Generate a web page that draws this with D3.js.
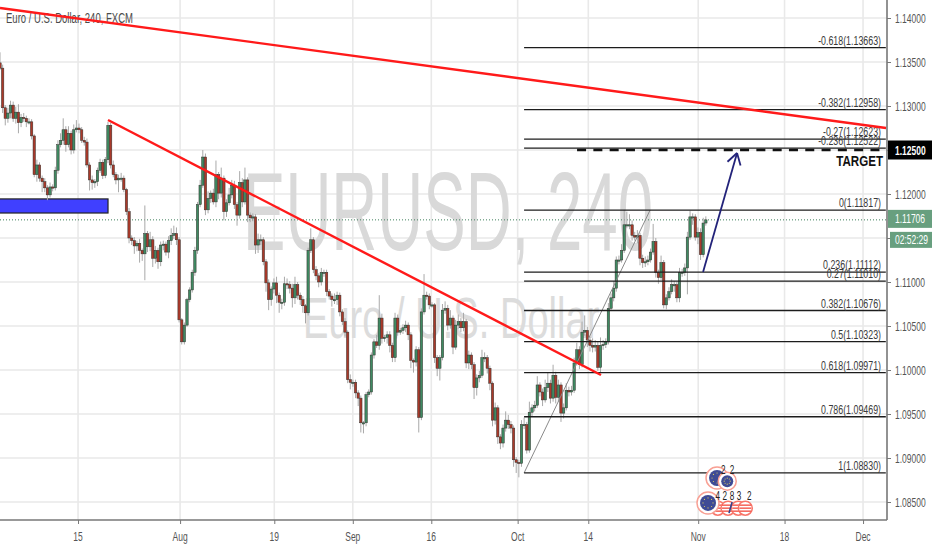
<!DOCTYPE html>
<html>
<head>
<meta charset="utf-8">
<script src="https://cdnjs.cloudflare.com/ajax/libs/d3/7.8.5/d3.min.js"></script>
<style>
  html, body { margin: 0; padding: 0; background: #fff; overflow: hidden; }
  text { font-family: "Liberation Sans", Arial, sans-serif; }
</style>
</head>
<body>
<svg id="chart" width="932" height="550"></svg>
<script>
// 240 candles, thinned to about 3 bars per trading day
var firstOpen = 1.1349;
var firstDay = -9.94, daysPerBar = 0.3355;
var closes = [
  1.1343,1.1298,1.1286,1.1292,1.1301,1.1286,1.1293,1.1281,1.1287,1.1286,
  1.1282,1.1282,1.1266,1.1222,1.1233,1.1218,1.1214,1.1207,1.1199,1.1208,
  1.1207,1.1227,1.1256,1.1261,1.1273,1.1256,1.1269,1.1250,1.1273,1.1275,
  1.1273,1.1261,1.1259,1.1233,1.1216,1.1213,1.1214,1.1227,1.1236,1.1221,
  1.1239,1.1278,1.1233,1.1222,1.1216,1.1218,1.1218,1.1205,1.1180,1.1150,
  1.1147,1.1141,1.1144,1.1136,1.1132,1.1155,1.1140,1.1148,1.1127,1.1136,
  1.1123,1.1142,1.1143,1.1134,1.1147,1.1153,1.1155,1.1148,1.1057,1.1032,
  1.1051,1.1080,1.1091,1.1111,1.1136,1.1188,1.1210,1.1242,1.1182,1.1195,
  1.1201,1.1191,1.1222,1.1201,1.1218,1.1180,1.1190,1.1199,1.1210,1.1188,
  1.1176,1.1213,1.1191,1.1216,1.1176,1.1173,1.1174,1.1142,1.1148,1.1148,
  1.1123,1.1099,1.1080,1.1092,1.1099,1.1085,1.1077,1.1077,1.1098,1.1097,
  1.1093,1.1082,1.1097,1.1085,1.1080,1.1073,1.1065,1.1136,1.1148,1.1114,
  1.1107,1.1100,1.1111,1.1111,1.1089,1.1084,1.1080,1.1080,1.1085,1.1066,
  1.1055,1.1043,1.0989,1.0986,1.0986,1.0974,1.0968,1.0940,1.0940,1.0972,
  1.0975,1.1017,1.1032,1.1028,1.1059,1.1036,1.1037,1.1040,1.1028,1.1014,
  1.1059,1.1043,1.1045,1.1048,1.1051,1.1040,1.1011,1.1009,1.1023,1.0946,
  1.1066,1.1085,1.1084,1.1074,1.1074,1.1014,1.1002,1.1014,1.1068,1.1070,
  1.1051,1.1059,1.1026,1.1051,1.1055,1.1048,1.1055,1.1008,1.1017,1.1006,
  1.0980,1.0991,1.0994,1.1014,1.1014,1.1002,1.0985,1.0943,1.0957,1.0924,
  1.0917,1.0934,1.0943,1.0938,1.0934,1.0898,1.0895,1.0894,1.0938,1.0938,
  1.0909,1.0952,1.0957,1.0960,1.0983,1.0975,1.0966,1.0980,1.0985,1.0968,
  1.0994,1.0969,1.0983,1.0951,1.0957,1.0977,1.0975,1.0977,1.1008,1.1023,
  1.1006,1.1043,1.1045,1.1034,1.1028,1.1026,1.1028,1.1003,1.1028,1.1029,
  1.1032,1.1070,1.1082,1.1093,1.1125,1.1125,1.1136,1.1165,1.1165,1.1165,
  1.1153,1.1151,1.1153,1.1127,1.1122,1.1123,1.1125,1.1134,1.1146,1.1111,
  1.1105,1.1122,1.1074,1.1082,1.1089,1.1097,1.1097,1.1082,1.1111,1.1111,
  1.1116,1.1151,1.1174,1.1174,1.1151,1.1156,1.1131,1.1167,1.11706
];
// wick lengths in pips above and below each body
var upperWicks = [
  12,4,3,6,5,4,6,9,4,5, 3,4,3,2,6,3,3,4,3,5, 3,4,5,8,13,4,8,3,6,9,
  5,3,4,4,3,5,3,3,4,3, 3,4,3,5,3,4,6,3,2,4, 3,4,3,5,2,32,3,9,4,5,
  3,4,4,3,5,8,9,7,3,2, 3,2,3,3,4,3,6,8,4,8, 3,5,16,3,12,3,4,8,6,5,
  3,13,5,14,3,3,4,3,7,6, 3,3,4,3,5,7,3,4,8,6, 4,5,9,3,3,4,2,3,13,3,
  4,3,5,3,3,3,3,7,4,3, 3,4,2,6,3,3,3,3,2,3, 3,3,3,8,26,5,3,4,4,3,
  6,4,3,4,5,3,3,2,4,3, 4,24,4,3,3,2,3,3,7,8, 4,9,3,6,8,4,10,3,5,3,
  3,4,5,9,6,3,3,2,6,3, 3,4,10,6,4,3,3,3,5,8, 3,12,4,5,10,3,4,9,12,4,
  12,4,6,3,5,8,4,5,6,8, 4,12,17,4,4,8,6,4,9,5, 4,6,5,8,4,5,7,17,15,12,
  5,4,6,3,4,6,5,4,20,4, 3,8,3,4,5,6,4,3,5,4, 5,6,7,4,3,6,5,6,4
];
var lowerWicks = [
  2,6,8,5,6,4,6,12,5,4, 6,3,4,3,8,4,12,5,6,3, 4,3,4,3,5,8,3,5,4,3,
  4,3,4,3,12,8,6,5,3,4, 3,4,4,3,5,14,4,3,4,6, 5,9,6,14,8,30,6,5,10,6,
  8,5,6,4,7,5,4,6,3,3, 3,2,3,3,4,4,3,3,6,4, 5,3,6,7,5,10,6,3,4,5,
  12,4,6,3,8,5,4,10,9,6, 4,10,12,7,5,9,12,8,4,5, 6,11,7,5,6,8,12,3,3,4,
  5,6,4,5,5,4,8,5,6,5, 4,5,4,8,5,6,9,11,12,4, 3,3,4,3,5,6,4,7,8,5,
  5,4,3,4,5,6,9,12,5,17, 3,3,4,5,3,6,9,14,3,4, 6,4,8,3,4,5,4,6,7,5,
  13,9,5,3,5,6,8,7,5,8, 7,5,4,5,6,8,12,16,4,5, 4,3,5,4,3,5,7,3,5,6,
  4,7,5,10,6,3,5,4,3,3, 5,3,4,8,7,6,5,4,6,5, 4,3,3,4,4,5,3,3,4,5,
  6,4,7,8,6,5,4,3,3,6, 7,3,4,5,3,3,8,5,5,5, 4,30,3,9,4,8,6,3,3
];

var priceTicks = [1.14, 1.135, 1.13, 1.125, 1.12, 1.115, 1.11, 1.105, 1.10, 1.095, 1.09, 1.085];
var hiddenPriceLabels = [1.125, 1.115];
var timeLabels = ['15', 'Aug', '19', 'Sep', '16', 'Oct', '14', 'Nov', '18', 'Dec'];
var timeDays = [0, 13, 25, 35, 45, 56, 65, 79, 90, 100];

var fibRatios = ['-0.618', '-0.382', '-0.27', '-0.236', '0', '0.236', '0.27', '0.382', '0.5', '0.618', '0.786', '1'];
var fibPrices = [1.13663, 1.12958, 1.12623, 1.12522, 1.11817, 1.11112, 1.11010, 1.10676, 1.10323, 1.09971, 1.09469, 1.08830];
var fibDays = [56.82, 102.9];

var resistanceLine = [[-9.94, 1.14114], [102.93, 1.12750]];
var fallingLine = [[3.82, 1.12841], [66.62, 1.09943]];
var fibTrendLine = [[56.82, 1.08830], [72.87, 1.11817]];
var targetLine = [[63.57, 1.125], [102.8, 1.125]];
var arrowLine = [[79.62, 1.11114], [83.95, 1.12466]];
var supplyZone = [[-9.94, 1.11944], [3.82, 1.11784]];

var lastPrice = 1.11706;
var countdown = '02:52:29';

// calendar events along the bottom of the chart
var euroEventDays = [81.4, 82.7, 80.25];
var euroEventPrices = [1.08773, 1.08737, 1.08489];
var euroEventSizes = [8, 6, 8];
var usEventDays = [81.5, 82.8, 84.1, 85.0];
var usEventPrice = 1.0843;
var eventCountDays = [82.2, 83.3, 81.5, 82.4, 83.3, 84.2, 85.5];
var eventCountPrices = [1.08864, 1.08864, 1.08568, 1.08568, 1.08568, 1.08568, 1.08568];
var eventCounts = ['2', '2', '4', '2', '8', '3', '2'];

var width = 932, height = 550;
var plotRight = 887, plotBottom = 520;
var squeeze = 0.68;   // the source picture is squashed horizontally

var x = d3.scaleLinear().domain([firstDay, 103.0]).range([0, 886.6]);
var y = d3.scaleLinear().domain([1.14, 1.085]).range([18, 502]);
var svg = d3.select('#chart');

function label(g, txt, px, py, size, anchor, color, weight, sx) {
  return g.append('text')
    .text(txt)
    .attr('transform', 'translate(' + px + ',' + py + ') scale(' + (sx || squeeze) + ',1)')
    .attr('text-anchor', anchor)
    .attr('font-size', size)
    .attr('font-weight', weight || 'normal')
    .attr('fill', color);
}

function segment(g, pts, color, w) {
  return g.append('line')
    .attr('x1', x(pts[0][0])).attr('y1', y(pts[0][1]))
    .attr('x2', x(pts[1][0])).attr('y2', y(pts[1][1]))
    .attr('stroke', color)
    .attr('stroke-width', w);
}

svg.append('rect').attr('width', width).attr('height', height).attr('fill', '#fff');

// Grid
var grid = svg.append('g');
grid.selectAll('line.h').data(priceTicks).enter().append('line')
  .attr('class', 'h')
  .attr('x1', 0).attr('x2', plotRight)
  .attr('y1', function (d) { return y(d); }).attr('y2', function (d) { return y(d); })
  .attr('stroke', '#e9e9e9').attr('stroke-width', 1.6);
grid.selectAll('line.v').data(timeDays).enter().append('line')
  .attr('class', 'v')
  .attr('x1', function (d) { return x(d); }).attr('x2', function (d) { return x(d); })
  .attr('y1', 0).attr('y2', plotBottom)
  .attr('stroke', '#e9e9e9').attr('stroke-width', 1.6);

// Watermark
var mark = svg.append('g');
label(mark, 'EURUSD, 240', 243, 250, 112, 'start', '#d9d9d9', 'normal', 0.568);
label(mark, 'Euro / U.S. Dollar', 303, 338, 58, 'start', '#dcdcdc', 'normal', 0.657);

// Title
label(svg, 'Euro / U.S. Dollar, 240, FXCM', 6, 23, 14, 'start', '#4a4a4a');

// Supply zone
svg.append('rect')
  .attr('x', x(supplyZone[0][0]) - 2)
  .attr('y', y(supplyZone[0][1]))
  .attr('width', x(supplyZone[1][0]) - x(supplyZone[0][0]) + 2)
  .attr('height', y(supplyZone[1][1]) - y(supplyZone[0][1]))
  .attr('fill', '#4040ff')
  .attr('stroke', '#222')
  .attr('stroke-width', 1.2);

// Last price dotted line
svg.append('line')
  .attr('x1', 0).attr('x2', plotRight)
  .attr('y1', y(lastPrice)).attr('y2', y(lastPrice))
  .attr('stroke', '#3f7f5c').attr('stroke-width', 1)
  .attr('stroke-dasharray', '1,2');

// Candles
var candles = closes.map(function (c, i) {
  var o = i === 0 ? firstOpen : closes[i - 1];
  return {
    day: firstDay + i * daysPerBar,
    open: o,
    close: c,
    high: Math.max(o, c) + upperWicks[i] / 10000,
    low: Math.min(o, c) - lowerWicks[i] / 10000
  };
});
var bars = svg.append('g');
bars.selectAll('line').data(candles).enter().append('line')
  .attr('x1', function (d) { return x(d.day); }).attr('x2', function (d) { return x(d.day); })
  .attr('y1', function (d) { return y(d.high); }).attr('y2', function (d) { return y(d.low); })
  .attr('stroke', '#a9a9a9').attr('stroke-width', 1);
bars.selectAll('rect').data(candles).enter().append('rect')
  .attr('x', function (d) { return x(d.day) - 1.2; })
  .attr('width', 2.4)
  .attr('y', function (d) { return y(Math.max(d.open, d.close)); })
  .attr('height', function (d) { return Math.max(1.2, Math.abs(y(d.open) - y(d.close))); })
  .attr('fill', function (d) { return d.close >= d.open ? '#3f8a62' : '#a9392a'; })
  .attr('stroke', '#33302c').attr('stroke-width', 0.5);

// Fib retracement
var fib = svg.append('g');
segment(fib, fibTrendLine, '#8a8a8a', 1);
fib.selectAll('line.level').data(fibPrices).enter().append('line')
  .attr('class', 'level')
  .attr('x1', x(fibDays[0])).attr('x2', x(fibDays[1]))
  .attr('y1', function (d) { return y(d); }).attr('y2', function (d) { return y(d); })
  .attr('stroke', '#1c1c1c').attr('stroke-width', 1.3);
fibPrices.forEach(function (p, i) {
  label(fib, fibRatios[i] + '(' + p.toFixed(5) + ')', 881, y(p) - 3, 13, 'end', '#3a3a3a');
});

// Trend lines
segment(svg, resistanceLine, '#ff1a1a', 2.4);
segment(svg, fallingLine, '#ff1a1a', 2.4);

// Target
segment(svg, targetLine, '#111', 2.6).attr('stroke-dasharray', '9,7.3');
label(svg, 'TARGET', 883, 166, 14.5, 'end', '#111', 'bold', 0.8);

// Arrow
var arrow = svg.append('g');
segment(arrow, arrowLine, '#23237a', 1.8);
var tipX = x(arrowLine[1][0]), tipY = y(arrowLine[1][1]);
var ang = Math.atan2(y(arrowLine[0][1]) - tipY, x(arrowLine[0][0]) - tipX);
[-0.55, 0.55].forEach(function (off) {
  arrow.append('line')
    .attr('x1', tipX).attr('y1', tipY)
    .attr('x2', tipX + 13 * Math.cos(ang + off)).attr('y2', tipY + 13 * Math.sin(ang + off))
    .attr('stroke', '#23237a').attr('stroke-width', 1.8);
});

// Calendar events
var events = svg.append('g');
usEventDays.forEach(function (d) {
  var cx = x(d), cy = y(usEventPrice);
  events.append('circle').attr('cx', cx).attr('cy', cy).attr('r', 7)
    .attr('fill', '#fff').attr('stroke', '#f8766a').attr('stroke-width', 1.5);
  [-3, 0, 3].forEach(function (o) {
    events.append('line').attr('x1', cx - 6).attr('x2', cx + 6)
      .attr('y1', cy + o).attr('y2', cy + o)
      .attr('stroke', '#f4554a').attr('stroke-width', 1.4);
  });
});
events.append('line')
  .attr('x1', x(usEventDays[1]) + 1).attr('y1', y(usEventPrice) + 5)
  .attr('x2', x(usEventDays[1]) + 4).attr('y2', y(usEventPrice) - 6)
  .attr('stroke', '#33438f').attr('stroke-width', 1.6);
euroEventDays.forEach(function (d, i) {
  var cx = x(d), cy = y(euroEventPrices[i]), r = euroEventSizes[i];
  events.append('circle').attr('cx', cx).attr('cy', cy).attr('r', r + 3)
    .attr('fill', '#fff').attr('stroke', '#f8a094').attr('stroke-width', 1.5);
  events.append('circle').attr('cx', cx).attr('cy', cy).attr('r', r)
    .attr('fill', '#3f4b95');
  d3.range(8).forEach(function (k) {
    events.append('circle')
      .attr('cx', cx + (r - 3) * Math.cos(k * Math.PI / 4))
      .attr('cy', cy + (r - 3) * Math.sin(k * Math.PI / 4))
      .attr('r', 0.6).attr('fill', '#d8c860');
  });
});
eventCounts.forEach(function (t, i) {
  label(events, t, x(eventCountDays[i]), y(eventCountPrices[i]) + 4, 12, 'middle', '#222');
});

// Axes
var bottomAxis = d3.axisBottom(x)
  .tickValues(timeDays)
  .tickSize(4)
  .tickFormat('');
var axisX = svg.append('g').attr('transform', 'translate(0,' + plotBottom + ')').call(bottomAxis);
axisX.select('.domain').attr('stroke', '#777').attr('stroke-width', 1.6).attr('d', 'M0,0H' + plotRight);
axisX.selectAll('.tick line').attr('stroke', '#777');
timeDays.forEach(function (d, i) {
  label(svg, timeLabels[i], x(d), 541, 12.5, 'middle', '#555');
});

var rightAxis = d3.axisRight(y)
  .tickValues(priceTicks)
  .tickSize(4)
  .tickFormat('');
var axisY = svg.append('g').attr('transform', 'translate(' + plotRight + ',0)').call(rightAxis);
axisY.select('.domain').attr('stroke', '#777').attr('stroke-width', 1.6).attr('d', 'M0,0V' + plotBottom);
axisY.selectAll('.tick line').attr('stroke', '#777');
priceTicks.forEach(function (p) {
  if (hiddenPriceLabels.indexOf(p) >= 0) return;
  label(svg, p.toFixed(5), 895, y(p) + 4.5, 12.5, 'start', '#555');
});

// Price badges
function badge(px, top, h, fill, txt, weight) {
  svg.append('rect').attr('x', px).attr('y', top).attr('width', width - px).attr('height', h).attr('fill', fill);
  label(svg, txt, 895, top + h / 2 + 4.5, 12.5, 'start', '#fff', weight);
}
badge(888, y(1.125) - 9.5, 19, '#000', '1.12500', 'bold');
badge(888, y(lastPrice) - 10, 18, '#689f7f', lastPrice.toFixed(5));
badge(890, y(lastPrice) + 12, 16, '#689f7f', countdown);
</script>
</body>
</html>
